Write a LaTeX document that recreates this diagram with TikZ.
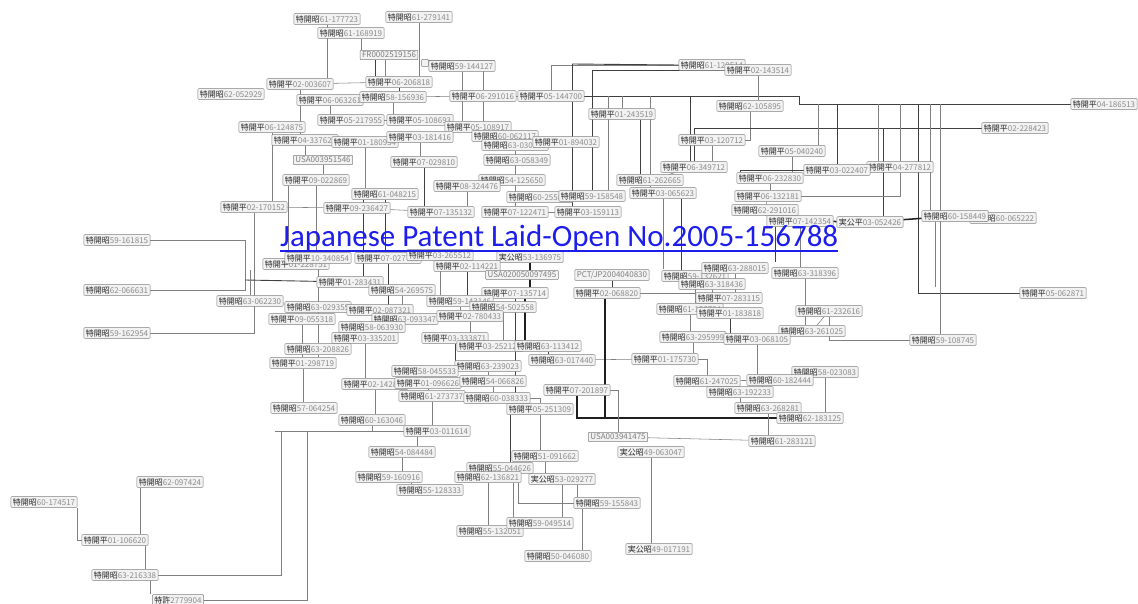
\documentclass[tikz,border=0pt]{standalone}
\usepackage{fontspec}
\newfontfamily\cjk{Noto Sans CJK JP}
\newfontfamily\carl{Carlito}
\usetikzlibrary{backgrounds,calc}
\newcommand\PatL[2]{\textcolor{black!85}{#1}\textcolor{black!45}{#2}}
\newcommand\PN[4]{\node[pb] (#1) at (#2) {\PatL{#3}{#4}};}
\newcommand\PX[3]{\node[pb] (#1) at (#2) {\textcolor{black!50}{#3}};}
\definecolor{lnk}{RGB}{30,30,235}
\tikzset{
 pb/.style={draw=black!50, fill=black!5, rounded corners=0.8pt, inner xsep=2pt, inner ysep=1.6pt, line width=0.5pt, font=\cjk\fontsize{8}{9}\selectfont},
 ln/.style={draw=black!50, line width=0.55pt},
 dk/.style={draw=black!75, line width=0.9pt},
 tk/.style={draw=black!88, line width=1.5pt},
 dbl/.style={draw=black!55, line width=0.5pt, double=white, double distance=1.3pt},
}
\begin{document}
\begin{tikzpicture}[x=1pt,y=-1pt]
\useasboundingbox (0,0) rectangle (1138,604);
% ---------- top ----------
\PN{a1}{327,19}{特開昭}{61-177723}
\PN{a2}{419,17}{特開昭}{61-279141}
\PN{a3}{351,33}{特開昭}{61-168919}
\PX{a4}{389,55}{FR0002519156}
\node[pb,minimum size=7pt,inner sep=0pt] (s1) at (425,63) {};
\PN{a5}{462,66}{特開昭}{59-144127}
\PN{a7}{231,94}{特開昭}{62-052929}
\PN{a6}{300,84}{特開平}{02-003607}
\PN{a8}{399,82}{特開平}{06-206818}
\PN{a9}{330,100}{特開平}{06-063261}
\PN{a10}{393,97}{特開昭}{58-156936}
\PN{a11}{483,96}{特開平}{06-291016}
\PN{a12}{551,96}{特開平}{05-144700}
\PN{a13}{351,120}{特開平}{05-217955}
\PN{a14}{420,120}{特開平}{05-108693}
\PN{a15}{478,127}{特開平}{05-108917}
\PN{a16}{272,127}{特開平}{06-124875}
\PN{a17}{305,140}{特開平}{04-337622}
\PN{a18}{365,142}{特開平}{01-180934}
\PN{a19}{420,137}{特開平}{03-181416}
\PN{a36}{505,136}{特開昭}{60-062117}
\PN{a33}{515,145}{特開昭}{63-030280}
\PN{a35}{566,142}{特開平}{01-894032}
\PX{a20}{323,160}{USA003951546}
\PN{a21}{424,162}{特開平}{07-029810}
\PN{a32}{517,160}{特開昭}{63-058349}
\PN{a22}{316,180}{特開平}{09-022869}
\PN{a34}{512,180}{特開昭}{54-125650}
\PN{a23}{467,186}{特開平}{08-324476}
\PN{a24}{385,194}{特開昭}{61-048215}
\PN{a25}{254,207}{特開平}{02-170152}
\PN{a26}{357,208}{特開平}{09-236427}
\PN{a27}{441,212}{特開平}{07-135132}
\PN{a31}{540,197}{特開昭}{60-255884}
\PN{a30}{592,196}{特開昭}{59-158548}
\PN{a28}{515,212}{特開平}{07-122471}
\PN{a29}{588,212}{特開平}{03-159113}
\PN{a37}{622,114}{特開平}{01-243519}
\PN{a38}{712,65}{特開昭}{61-120514}
\PN{a39}{758,70}{特開平}{02-143514}
\PN{a40}{750,106}{特開昭}{62-105895}
\PN{a41}{712,140}{特開平}{03-120712}
\PN{a42}{792,151}{特開平}{05-040240}
\PN{a46}{694,167}{特開平}{06-349712}
\PN{a44}{900,167}{特開平}{04-277812}
\PN{a43}{837,170}{特開平}{03-022407}
\PN{a45}{770,178}{特開平}{06-232830}
\PN{a47}{650,180}{特開昭}{61-262665}
\PN{a48}{663,193}{特開平}{03-065623}
\PN{a49}{768,196}{特開平}{06-132181}
\PN{a50}{765,210}{特開昭}{62-291016}
\PN{a51}{800,221}{特開平}{07-142354}
\PN{a52}{870,222}{実公平}{03-052426}
\PN{a54}{1003,218}{特開昭}{60-065222}
\PN{a53}{955,216}{特開昭}{60-158449}
\PN{a55}{1104,104}{特開平}{04-186513}
\PN{a56}{1015,128}{特開平}{02-228423}
\PN{a57}{1053,293}{特開平}{05-062871}
% ---------- left ----------
\PN{a58}{117,240}{特開昭}{59-161815}
\PN{a59}{117,290}{特開昭}{62-066631}
\PN{a60}{117,333}{特開昭}{59-162954}
% ---------- centre cluster ----------
\PN{c1}{296,264}{特開平}{01-228751}
\PN{a62}{318,258}{特開平}{10-340854}
\PN{c2}{388,258}{特開平}{07-027799}
\PN{c3}{440,255}{特開平}{03-265512}
\PN{a67}{530,257}{実公昭}{53-136975}
\PN{a64}{467,266}{特開平}{02-114221}
\PX{a65}{522,275}{USA020050097495}
\PX{a66}{612,275}{PCT/JP2004040830}
\PN{c7}{350,282}{特開平}{01-283431}
\PN{c11}{402,290}{特開昭}{54-269575}
\PN{a68}{515,293}{特開平}{07-135714}
\PN{a69}{607,293}{特開平}{02-068820}
\PN{a61}{250,301}{特開昭}{63-062230}
\PN{c8}{318,307}{特開昭}{63-029355}
\PN{c12}{460,301}{特開昭}{59-143146}
\PN{c13}{503,307}{特開昭}{54-502558}
\PN{c9}{302,319}{特開平}{09-055318}
\PN{c10}{380,310}{特開平}{02-087321}
\PN{c16}{405,319}{特開昭}{63-093347}
\PN{c14}{470,316}{特開平}{02-780433}
\PN{c15}{372,327}{特開昭}{58-063930}
\PN{c17}{365,338}{特開平}{03-335201}
\PN{c6}{455,338}{特開平}{03-333871}
\PN{a95}{490,346}{特開平}{03-252122}
\PN{a93}{548,346}{特開昭}{63-113412}
\PN{a96}{318,349}{特開昭}{63-208826}
\PN{a97}{303,363}{特開平}{01-298719}
\PN{a94}{562,360}{特開昭}{63-017440}
\PN{c18}{488,366}{特開昭}{63-239023}
\PN{a98}{425,371}{特開昭}{58-045533}
\PN{a100}{375,384}{特開平}{02-142887}
\PN{a99}{428,383}{特開平}{01-096626}
\PN{c19}{493,381}{特開昭}{54-066826}
\PN{a92}{577,390}{特開平}{07-201897}
\PN{a101}{432,396}{特開昭}{61-273737}
\PN{c20}{497,398}{特開昭}{60-038333}
\PN{a91}{540,409}{特開平}{05-251309}
\PN{a102}{304,408}{特開昭}{57-064254}
\PN{a103}{372,420}{特開昭}{60-163046}
\PN{a104}{437,431}{特開平}{03-011614}
% ---------- right-middle ----------
\PN{a70}{695,276}{特開昭}{59-132621}
\PN{a71}{735,268}{特開昭}{63-288015}
\PN{a72}{805,273}{特開昭}{63-318396}
\PN{a73}{712,284}{特開昭}{63-318436}
\PN{a74}{729,298}{特開平}{07-283115}
\PN{c4}{690,309}{特開昭}{61-156724}
\PN{a75}{730,313}{特開平}{01-183818}
\PN{a76}{829,311}{特開昭}{61-232616}
\PN{a77}{812,331}{特開昭}{63-261025}
\PN{a78}{943,340}{特開昭}{59-108745}
\PN{a79}{693,337}{特開昭}{63-295999}
\PN{a80}{757,339}{特開平}{03-068105}
\PN{a81}{665,359}{特開平}{01-175730}
\PN{a84}{825,372}{特開昭}{58-023083}
\PN{a82}{707,381}{特開昭}{61-247025}
\PN{a83}{780,380}{特開昭}{60-182444}
\PN{a85}{740,392}{特開昭}{63-192233}
\PN{a86}{768,408}{特開昭}{63-268281}
\PN{a87}{810,418}{特開昭}{62-183125}
\PN{a88}{782,441}{特開昭}{61-283121}
\PX{a89}{618,437}{USA003941475}
\PN{a90}{651,452}{実公昭}{49-063047}
% ---------- bottom ----------
\PN{a105}{402,452}{特開昭}{54-084484}
\PN{a110}{545,456}{特開昭}{51-091662}
\PN{c21}{500,468}{特開昭}{55-044626}
\PN{a106}{389,477}{特開昭}{59-160916}
\PN{a108}{488,477}{特開昭}{62-136821}
\PN{a109}{562,479}{実公昭}{53-029277}
\PN{a107}{430,490}{特開昭}{55-128333}
\PN{a111}{607,503}{特開昭}{59-155843}
\PN{a113}{490,531}{特開昭}{55-132051}
\PN{a112}{540,523}{特開昭}{59-049514}
\PN{a114}{558,556}{特開昭}{50-046080}
\PN{a115}{659,549}{実公昭}{49-017191}
\PN{a116}{170,482}{特開昭}{62-097424}
\PN{a117}{44,502}{特開昭}{60-174517}
\PN{a118}{115,540}{特開平}{01-106620}
\PN{a119}{125,575}{特開昭}{63-216338}
\PN{a120}{178,600}{特許}{2779904}
% ---------- free ends ----------
\coordinate (k1) at (245,280);
\coordinate (q1) at (275,431);
\coordinate (q2) at (281,431);
\coordinate (q3) at (307,431);
\coordinate (r1) at (918,104);
\coordinate (r2) at (940,104);
\coordinate (t1) at (818,104);
\coordinate (t2) at (878,104);
\coordinate (t3) at (930,104);
\coordinate (u1) at (608,96);
\coordinate (u2) at (650,96);
\coordinate (u3) at (690,96);
\coordinate (v1) at (883,128);
\coordinate (w1) at (572,64);
\begin{pgfonlayer}{background}
% top
\draw[ln] (a1) -- (a1 |- a6.north);
\draw[ln] (a2) -- (a2 |- a8.north);
\draw[ln] ([xshift=10pt]a3.south) -- ([xshift=10pt]a3.south |- a4.north);
\draw[dk] ([xshift=-14pt]a4.south) -- ([xshift=-14pt]a4.south |- a8.north);
\draw[ln] ([xshift=-4pt]a4.south) -- ([xshift=-4pt]a4.south |- a8.north);
\draw[ln] (a6) -- (a8);
\draw[ln] (a6) -- (a6 |- a17.north);
\draw[ln] (s1) -| (a11);
\draw[ln] (s1.north) |- (a5.north east);
\draw[ln] (a5) -- (a5 |- a15.north);
\draw[dk] (a8) -- (a8 |- a10.north);
\draw[ln] (a10) -- (a10 |- a14.north);
\draw[ln] (a10) -- (a11);
\draw[ln] (a9) -- (a9 |- a13.north);
\draw[ln] (a13) -- (a14);
\draw[ln] (a11) -- (a12);
\draw[ln] (a11) -- (a11 |- a15.north);
\draw[ln] (a16) -- (a16 |- a25.north);
\draw[ln] (a17) -- (a17 |- a20.north);
\draw[ln] (a20) -- (a20 |- a22.north);
\draw[ln] (a22) -- (a22 |- a62.north);
\draw[ln] ([xshift=-28pt]a22.south) -- ([xshift=-28pt]a22.south |- c1.north);
\draw[ln] (a25) |- (a60);
\draw[ln] (a25) -- (a26);
\draw[ln] (a26) -- (a27);
\draw[ln] (a18) -- (a18 |- a24.north);
\draw[dk] (a21) -- (a21 |- a27.north);
\draw[ln] (a19) -- (a19 |- a21.north);
\draw[ln] (a23) -- (a23 |- a27.north);
\draw[dk] (a24) -- (a24 |- c2.north);
\draw[dk] ([xshift=-22pt]a24.south) -- ([xshift=-22pt]a24.south |- c7.north);
\draw[ln] (a33) -- (a33 |- a28.north);
\draw[ln] (a28) -- (a29);
\draw[ln] (a31) -- (a30);
\draw[dk] (a12.east) -- ++(215,0) |- (a55);
\draw[ln] (a38.west) -| (a12.north);
\draw[dk] (w1) -- (a38.west);
\draw[dk] (w1) -- (w1 |- a12.north);
\draw[dk] ([xshift=21pt]a12.south) -- ([xshift=21pt]a12.south |- a29.north);
\draw[dk] (a39.west) -| (a30.north);
\draw[ln] (a39) -- (a39 |- a40.north);
\draw[ln] (a37.north) -- (a37.north |- a12.east);
\draw[dk] ([xshift=-15pt]a37.south east) -- ([xshift=-15pt]a37.south east |- a47.north);
\draw[ln] (u1) -- (u1 |- a30.north);
\draw[ln] (u2) -- (u2 |- a47.north);
\draw[dk] (u3) -- (u3 |- a46.north);
\draw[ln] (a40) |- (a41);
\draw[dk] (a56.west) -| (a46.north);
\draw[ln] (a41) -- (a41 |- a46.north);
\draw[ln] (a46) -- (a47);
\draw[ln] (a47) -- (a47 |- a48.north);
\draw[ln] (a48) -- (a48 |- a66.north);
\draw[dk] ([xshift=18pt]a48.south) -- ([xshift=18pt]a48.south |- a70.north);
\draw[ln] (t1) -- (t1 |- a42.north);
\draw[ln] (a42) -- (a42 |- a45.north);
\draw[dk] (a43) -- (a43 |- a55.west);
\draw[ln] (t2) -- (t2 |- a44.north);
\draw[ln] (a44) -- (a44 |- a55.west);
\draw[ln] (t3) -- (t3 |- a53.north);
\draw[dk] (a57) -| (r1);
\draw[ln] (r2) -- (r2 |- a78.north);
\draw[dk] (v1) -- (v1 |- a52.north);
\draw[ln] (a45) -- (a45 |- a49.north);
\draw[ln] (a49) -- (a50);
\draw[ln] (a50) -- (a50 |- a51.north);
\draw[dk] (a43.west) -| ([xshift=-30pt]a45.north);
\draw[ln] (a44) |- (a49);
\draw[tk] (a51) -- (a52);
\draw[tk] (a52) -- (a53);
\draw[ln] ([xshift=-20pt]a53.south) -- ([xshift=-20pt]a53.south |- a57.north);
\draw[ln] (a51) -- (a51 |- a72.north);
\draw[dk] ([xshift=-25pt]a51.south) -- ([xshift=-25pt]a51.south |- a71.north);
% left
\draw[ln] (a58) -| (k1);
\draw[ln] (a59) -| (k1);
\draw[dk] (k1) -- (c7);
\draw[ln] (a61) -- (a61 |- c1.south);
\draw[ln] (a61) -- (c8);
% centre
\draw[ln] (a62) -- (a62 |- a96.north);
\draw[dk] (c2) -- (c2 |- c16.north);
\draw[dk] (a64) -- (a64 |- c12.north);
\draw[ln] (c3) -- (c3 |- c12.north);
\draw[tk] (a67) -- (a67 |- a68.north);
\draw[dk] (a66) -- (a66 |- a69.north);
\draw[ln] (a69.east) -| (a70.south);
\draw[ln] (a70) -- (a70 |- c4.north);
\draw[ln] (c4) -- (c4 |- a79.north);
\draw[ln] (a79) -- (a79 |- a81.north);
\draw[ln] (a94) -- (a81);
\draw[ln] (a93) -- (a95);
\draw[dk] (c6) -- (c6 |- a98.north);
\draw[ln] (c18) -- (c18 |- c19.north);
\draw[ln] (a98) -- (a98 |- a99.north);
\draw[ln] (a99) -- (a99 |- a101.north);
\draw[ln] (a101) -- (a101 |- a104.north);
\draw[ln] (a103) |- (a104);
\draw[ln] (c11) -- (c11 |- c16.north);
\draw[ln] (c10) -- (c10 |- c15.north);
\draw[ln] (c15) -- (c15 |- c17.north);
\draw[ln] (c17) -- (c17 |- a100.north);
\draw[ln] (c9) -- (c9 |- a97.north);
\draw[ln] (c12) -- (c12 |- c14.north);
\draw[ln] (c14) -- (c14 |- a95.north);
\draw[ln] (c13) -- (c13 |- a95.north);
\draw[dk] (a68) -- (a68 |- a91.north);
\draw[tk] ([xshift=10pt]a68.south) -- ([xshift=10pt]a68.south |- a93.north);
\draw[dk] (a93) -- (a93 |- a94.north);
\draw[tk] ([xshift=-2pt]a69.south) -- ([xshift=-2pt]a69.south |- a87.west);
\draw[tk] (a92.south) |- (a87);
\draw[ln] (c19) -- (c19 |- c20.north);
\draw[ln] (c20) -| (a91);
\draw[ln] (a97) -- (a97 |- a102.north);
\draw[ln] (a96) -- (a96 |- a97.north);
\draw[ln] (a100) -- (a100 |- a103.north);
% right-middle
\draw[ln] (a71) -- (a71 |- a74.north);
\draw[ln] (a73) -- (a73 |- a75.north);
\draw[dk] (a75) -- (a75 |- a80.north);
\draw[ln] (a79) -- (a80);
\draw[ln] (a80) -- (a80 |- a83.north);
\draw[ln] (a81) -| (a82);
\draw[ln] (a82) -- (a83);
\draw[ln] (a85) -- (a85 |- a86.north);
\draw[ln] (a84) -- (a84 |- a87.north);
\draw[ln] (a76) -- (a77);
\draw[ln] (a72) -- (a72 |- a77.north);
\draw[ln] (a78) -| (a76);
\draw[ln] (a86) -- (a86 |- a88.north);
\draw[ln] (a89) -- (a88);
\draw[ln] (a89) |- (a92);
\draw[ln] (a90) -- (a90 |- a115.north);
\draw[ln] ([xshift=-18pt]a83.south) -- ([xshift=-18pt]a83.south |- a85.north);
% bottom
\draw[ln] ([xshift=-20pt]a104.south) -- ([xshift=-20pt]a104.south |- a105.north);
\draw[ln] (a105) -- (a105 |- a106.north);
\draw[ln] ([xshift=22pt]a106.south) -- ([xshift=22pt]a106.south |- a107.north);
\draw[ln] (a108) -- (a108 |- a113.north);
\draw[ln] ([xshift=25pt]a108.south) -- ([xshift=25pt]a108.south |- a112.north);
\draw[ln] ([xshift=30pt]a108.south) |- (a111);
\draw[ln] (a109) -- (a109 |- a112.north);
\draw[ln] ([xshift=15pt]a109.south) -- ([xshift=15pt]a109.south |- a111.north);
\draw[ln] ([xshift=-25pt]a111.south) -- ([xshift=-25pt]a111.south |- a114.north);
\draw[ln] (a110) -- (a110 |- a109.north);
\draw[ln] (a91) -- (a91 |- a110.north);
\draw[ln] (c21) -- (c21 |- a108.north);
\draw[dk] ([xshift=-30pt]a91.south) -- ([xshift=-30pt]a91.south |- c21.north);
% bottom-left bracket
\draw[dbl] (a118) -| (q1);
\draw[ln] (a119) -| (q2);
\draw[ln] (a120) -| (q3);
\draw[ln] (q1) -- (a104);
\draw[ln] (a117.south east) |- (a118);
\draw[ln] ([xshift=-30pt]a116.south) -- ([xshift=-30pt]a116.south |- a118.north);
\draw[ln] ([xshift=30pt]a118.south) -- ([xshift=30pt]a118.south |- a119.north);
\draw[ln] ([xshift=25pt]a119.south) -- ([xshift=25pt]a119.south |- a120.north);
\end{pgfonlayer}
% title link
\node[anchor=base west, inner sep=0pt, text=lnk] (ttl) at (280,247)
  {\resizebox{558pt}{!}{\carl Japanese Patent Laid-Open No.2005-156788}};
\draw[lnk, line width=1.1pt] (ttl.base west) ++(0,4) -- ([yshift=-4pt]ttl.base east);
\end{tikzpicture}
\end{document}
